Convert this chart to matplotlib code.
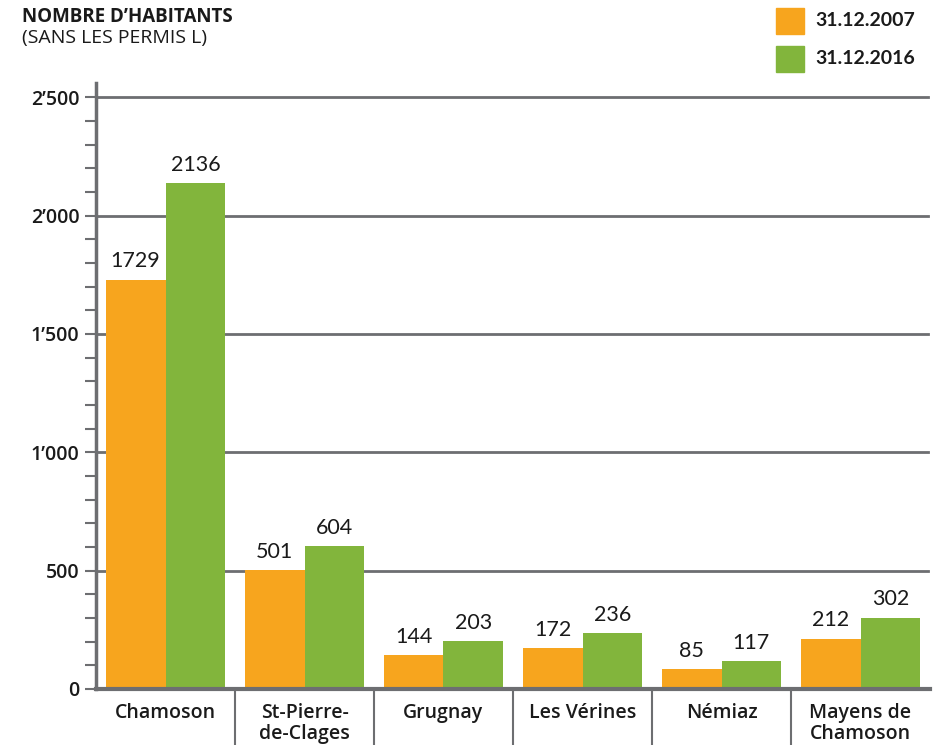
import matplotlib
matplotlib.use("Agg")
import matplotlib.pyplot as plt
import matplotlib.transforms as mtransforms
import matplotlib.patches as mpatches
import numpy as np

plt.rcParams['font.family'] = ['Lato', 'DejaVu Sans']

categories = ["Chamoson", "St-Pierre-\nde-Clages", "Grugnay", "Les Vérines", "Némiaz", "Mayens de\nChamoson"]
values_2007 = [1729, 501, 144, 172, 85, 212]
values_2016 = [2136, 604, 203, 236, 117, 302]
series_labels = ["31.12.2007", "31.12.2016"]
yticks = [0, 500, 1000, 1500, 2000, 2500]
ytick_labels = ["0", "500", "1’000", "1’500", "2’000", "2’500"]

ORANGE = "#F7A51E"
GREEN = "#82B53C"
GRAY = "#6D6E71"
LABEL_FONT = ['Open Sans', 'DejaVu Sans']

fig = plt.figure(figsize=(9.4, 7.45), dpi=100)
ax = fig.add_axes([96/940, 1-689/745, (930-96)/940, (689-83)/745])

x = np.arange(len(categories))
w = 0.43
ax.bar(x - w/2, values_2007, width=w, color=ORANGE, zorder=3)
ax.bar(x + w/2, values_2016, width=w, color=GREEN, zorder=3)

for xi, v in zip(x - w/2, values_2007):
    ax.annotate(str(v), (xi, v), xytext=(0, 6), textcoords="offset points",
                ha="center", va="bottom", fontsize=15.5, color="#1a1a1a")
for xi, v in zip(x + w/2, values_2016):
    ax.annotate(str(v), (xi, v), xytext=(0, 6), textcoords="offset points",
                ha="center", va="bottom", fontsize=15.5, color="#1a1a1a")

ax.set_xlim(-0.5, len(categories) - 0.5)
ax.set_ylim(0, 2560)
ax.set_yticks(yticks)
ax.set_yticklabels(ytick_labels, fontsize=14, fontweight="semibold", color="#1a1a1a",
                   family=LABEL_FONT)
ax.set_yticks(np.arange(0, 2501, 100), minor=True)
ax.tick_params(axis="y", which="major", length=8, width=1.5, color=GRAY, pad=4)
ax.tick_params(axis="y", which="minor", length=8, width=1.5, color=GRAY)

ax.set_xticks(x)
ax.set_xticklabels(categories, fontsize=14, fontweight="semibold", color="#1a1a1a",
                   linespacing=1.05, family=LABEL_FONT)
ax.tick_params(axis="x", length=0, pad=10)

for yv in yticks[1:]:
    ax.axhline(yv, color=GRAY, lw=2.0, zorder=1, xmax=0.998)

for s in ["top", "right"]:
    ax.spines[s].set_visible(False)
ax.spines["left"].set_color(GRAY)
ax.spines["left"].set_linewidth(2.5)
ax.spines["bottom"].set_color(GRAY)
ax.spines["bottom"].set_linewidth(3)
ax.spines["bottom"].set_zorder(4)

trans = mtransforms.blended_transform_factory(ax.transData, ax.transAxes)
for b in np.arange(0.5, len(categories) - 1, 1.0):
    ax.plot([b, b], [0, -0.1], transform=trans, color=GRAY, lw=1.5, clip_on=False)

fig.text(22/940, 1-17/745, "NOMBRE D’HABITANTS", fontsize=13.5, fontweight="bold",
         ha="left", va="center", color="#1a1a1a", family=LABEL_FONT)
fig.text(22/940, 1-38/745, "(SANS LES PERMIS L)", fontsize=14,
         ha="left", va="center", color="#1a1a1a", family=LABEL_FONT)

for i, (lab, col) in enumerate(zip(series_labels, [ORANGE, GREEN])):
    yc = 21 + i * 38
    fig.patches.append(mpatches.Rectangle((776/940, 1-(yc+13)/745), 28/940, 26/745,
                                          transform=fig.transFigure, color=col))
    fig.text(815/940, 1-yc/745, lab, fontsize=14, fontweight="bold",
             ha="left", va="center", color="#1a1a1a")

fig.savefig("out.png", dpi=100)
